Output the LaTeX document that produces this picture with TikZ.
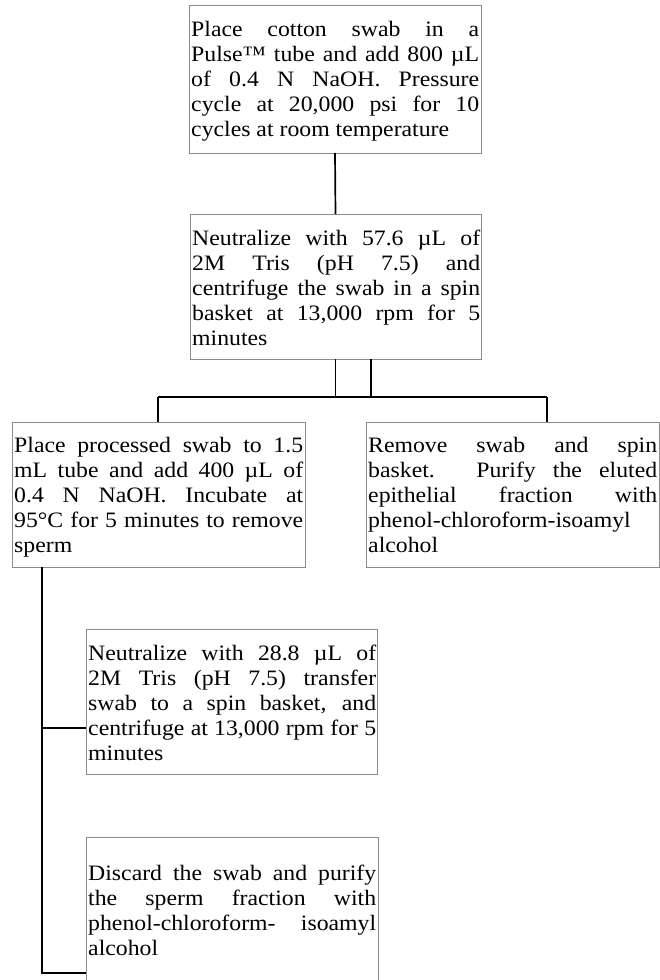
\documentclass[tikz,border=0pt]{standalone}
\usepackage{fontspec}
\setmainfont{Liberation Serif}[FakeStretch=1.08]
\definecolor{boxgray}{HTML}{8C8C8C}
\newcommand\boxtextsetup{\hyphenpenalty=10000\relax\exhyphenpenalty=10000\relax\tolerance=10000\relax\hbadness=10000\relax}
\tikzset{
  box/.style={draw=boxgray, line width=0.9pt, minimum width=292pt, minimum height=145pt,
    anchor=north west, inner sep=0pt, outer sep=0pt},
  txt/.style={anchor=base west, inner sep=0pt, text width=288pt, align=justify,
    font=\fontsize{22}{25}\selectfont},
  conn/.style={line width=1.7pt, draw=black}
}
\begin{document}
\begin{tikzpicture}[x=1pt,y=-1pt]
\useasboundingbox (0,0) rectangle (660,980);
\clip (0,0) rectangle (660,980);

% boxes
\node[box, minimum height=148pt] (b1) at (189,5) {};
\node[box, minimum width=291pt] (b2) at (190,214) {};
\node[box, minimum width=293pt] (b3) at (12,422) {};
\node[box, minimum width=293pt] (bR) at (366,422) {};
\node[box, minimum width=291pt] (b4) at (86,629) {};
\node[box, minimum height=200pt] (b5) at (86,837) {};

% texts
\node[txt] (t1) at (191,36.7) {\boxtextsetup Place cotton swab in a\linebreak Pulse™ tube and add 800 µL\linebreak of 0.4 N NaOH. Pressure\linebreak cycle at 20,000 psi for 10\linebreak cycles at room temperature};
\node[txt] (t2) at (192,245) {\boxtextsetup Neutralize with 57.6 µL of\linebreak 2M Tris (pH 7.5) and\linebreak centrifuge the swab in a spin\linebreak basket at 13,000 rpm for 5\linebreak minutes};
\node[txt, text width=289pt] (t3) at (14,452) {\boxtextsetup Place processed swab to 1.5\linebreak mL tube and add 400 µL of\linebreak 0.4 N NaOH. Incubate at\linebreak 95°C for 5 minutes to remove\linebreak sperm};
\node[txt, text width=289pt] (tR) at (368,452) {\boxtextsetup Remove swab and spin\linebreak basket. Purify the eluted\linebreak epithelial fraction with\linebreak phenol-chloroform-isoamyl\linebreak alcohol};
\node[txt] (t4) at (88,660) {\boxtextsetup Neutralize with 28.8 µL of\linebreak 2M Tris (pH 7.5) transfer\linebreak swab to a spin basket, and\linebreak centrifuge at 13,000 rpm for 5\linebreak minutes};
\node[txt] (t5) at (88,880) {\boxtextsetup Discard the swab and purify\linebreak the sperm fraction with\linebreak phenol-chloroform- isoamyl\linebreak alcohol};

% junction coordinates
\coordinate (hL) at (158,397);
\coordinate (hR) at (547,397);
\coordinate (s2) at (371,359);
\coordinate (v3) at (42,567);
\coordinate (v5) at (42,973);
\coordinate (j4) at (86,728);
\coordinate (j5) at (86,973);

% connectors
\draw[conn] (b1.south) -- (b2.north);
\draw[conn] (b2.south) -- (b2.south |- hL);
\draw[conn] (s2) -- (s2 |- hL);
\draw[conn] (hL) -- (hR);
\draw[conn] (hL) -- (hL |- b3.north);
\draw[conn] (hR) -- (hR |- bR.north);
\draw[conn] (v3) -- (v5) -- (j5);
\draw[conn] (v3 |- j4) -- (j4);
\end{tikzpicture}
\end{document}
